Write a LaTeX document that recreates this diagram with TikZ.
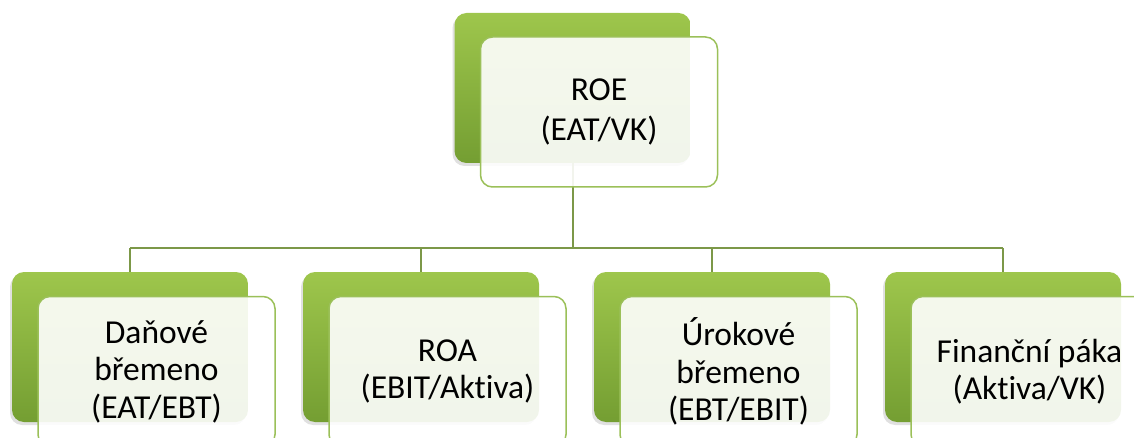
\documentclass[tikz,border=0pt]{standalone}
\usepackage{fontspec}
\setmainfont{Carlito}[Ligatures={NoCommon}]
\usetikzlibrary{shadows}
\definecolor{gtop}{RGB}{158,198,76}
\definecolor{gbot}{RGB}{116,158,50}
\definecolor{gline}{RGB}{124,152,72}
\definecolor{gborder}{RGB}{155,192,89}
\begin{document}
\begin{tikzpicture}[x=1pt,y=-1pt,
  backbox/.style={rectangle, rounded corners=12pt, minimum width=236pt, minimum height=150pt,
    top color=gtop, bottom color=gbot, draw=none, inner sep=0pt,
    drop shadow={shadow xshift=-2pt,shadow yshift=-3pt,opacity=0.12,fill=black}},
  frontbox/.style={rectangle, rounded corners=12pt, minimum width=237pt, minimum height=150pt,
    fill=white, fill opacity=0.9, text opacity=1, draw=gborder, line width=1.5pt,
    align=center, inner sep=0pt, text=black},
  topfont/.style={font=\fontsize{33.5}{40}\selectfont},
  botfont/.style={font=\fontsize{33.5}{37.5}\selectfont},
  conn/.style={draw=gline, line width=2pt}]
\useasboundingbox (0,0) rectangle (1134,438);
\clip (0,0) rectangle (1134,438);
\coordinate (bus) at (0,248);
% back boxes
\node[backbox] (tb) at (572.5,88) {};
\node[backbox] (b1) at (130,347) {};
\node[backbox] (b2) at (421,347) {};
\node[backbox] (b3) at (712,347) {};
\node[backbox] (b4) at (1003,347) {};
% connectors
\draw[conn] (tb.south) -- (tb.south |- bus);
\draw[conn] (b1.north |- bus) -- (b4.north |- bus);
\draw[conn] (b1.north |- bus) -- (b1.north);
\draw[conn] (b2.north |- bus) -- (b2.north);
\draw[conn] (b3.north |- bus) -- (b3.north);
\draw[conn] (b4.north |- bus) -- (b4.north);
% front boxes
\node[frontbox, topfont] (tf) at (599,112) {ROE\\(EAT/VK)};
\node[frontbox, botfont] (f1) at (156.5,371.5) {Daňové\\břemeno\\(EAT/EBT)};
\node[frontbox, botfont] (f2) at (447.5,371.5) {ROA\\(EBIT/Aktiva)};
\node[frontbox, botfont] (f3) at (738.5,371.5) {Úrokové\\břemeno\\(EBT/EBIT)};
\node[frontbox, botfont] (f4) at (1029.5,371.5) {Finanční páka\\(Aktiva/VK)};
\end{tikzpicture}
\end{document}
